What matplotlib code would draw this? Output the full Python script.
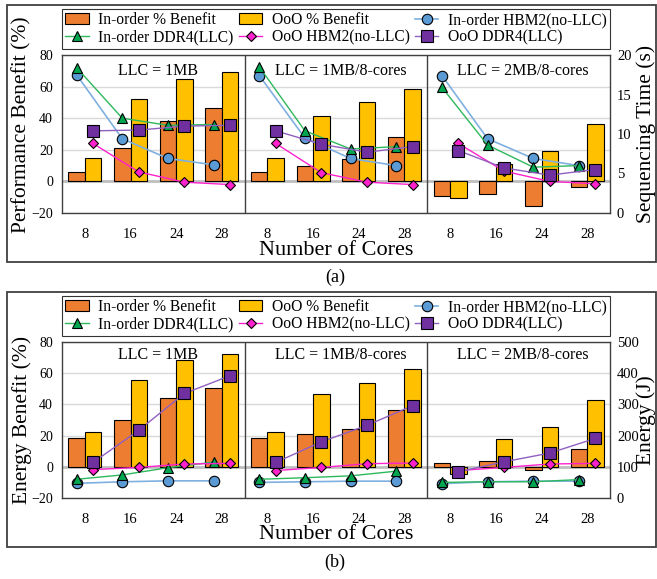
import matplotlib
matplotlib.use('Agg')
import matplotlib.pyplot as plt
from matplotlib.patches import Rectangle
import numpy as np

plt.rcParams['font.family'] = ['Liberation Serif', 'DejaVu Serif']

# ---------------- data ----------------
cores = ['8', '16', '24', '28']
groups = ['LLC = 1MB', 'LLC = 1MB/8-cores', 'LLC = 2MB/8-cores']

# (a) performance benefit (%) and sequencing time (s)
perf_inorder_benefit = [5.7, 21, 38, 46.5, 5.7, 9.5, 14.1, 28.4, -9.5, -8.2, -15.8, -3.6]
perf_ooo_benefit = [15, 52, 65, 69, 14.7, 41.7, 50.1, 58.3, -10.5, 11, 19.4, 36.2]
time_inorder_ddr4 = [18.4, 12.0, 11.1, 11.2, 18.5, 10.4, 8.1, 8.4, 15.9, 8.6, 5.8, 6.0]
time_inorder_hbm2 = [17.5, 9.4, 6.9, 6.1, 17.4, 9.5, 6.9, 6.0, 17.4, 9.4, 6.9, 6.0]
time_ooo_hbm2 = [8.8, 5.2, 3.9, 3.6, 8.8, 5.1, 3.9, 3.6, 8.8, 5.3, 4.0, 3.7]
time_ooo_ddr4 = [10.4, 10.5, 11.0, 11.1, 10.4, 8.7, 7.7, 8.4, 7.9, 5.7, 4.8, 5.5]

# (b) energy benefit (%) and energy (J)
en_inorder_benefit = [18.7, 30.3, 43.8, 50.6, 18.2, 20.8, 24.2, 36.5, 2.6, 3.9, -2.1, 11.6]
en_ooo_benefit = [22.3, 55.8, 68.5, 72.1, 22.1, 46.5, 54, 63, -4.9, 17.6, 25.3, 42.5]
en_inorder_ddr4 = [60, 74, 97, 115, 60, 65, 71, 86, 50, 52, 52, 59]
en_inorder_hbm2 = [47, 52, 55, 55, 50, 52, 54, 54, 46, 52, 54, 54]
en_ooo_hbm2 = [91, 98, 109, 111, 88, 98, 110, 112, 88, 98, 109, 111]
en_ooo_ddr4 = [114, 217, 335, 392, 114, 180, 233, 296, 84, 116, 144, 191]

left_ticks = [-20, 0, 20, 40, 60, 80]
time_ticks = [0, 5, 10, 15, 20]
energy_ticks = [0, 100, 200, 300, 400, 500]

# ---------------- styles ----------------
C_INB = '#ED7D31'
C_OOB = '#FFC000'
W, H = 657, 579
fig = plt.figure(figsize=(W / 100, H / 100), dpi=100)

labels = ['In-order % Benefit', 'OoO % Benefit', 'In-order HBM2(no-LLC)',
          'In-order DDR4(LLC)', 'OoO HBM2(no-LLC)', 'OoO DDR4(LLC)']


def panel(top, bottom, inb, oob, tri, circ, dia, sq, ylabel, rlabel, rlim, rticks,
          ylab_y, rlab_x, title_y, tag, tag_y, frame):
    ax = fig.add_axes([62 / W, 1 - bottom / H, 548 / W, (bottom - top) / H])
    n = len(groups) * len(cores)
    x = np.arange(n)
    w = 0.36
    ax.set_axisbelow(True)
    b1 = ax.bar(x - w / 2, inb, w, color=C_INB, edgecolor='black', lw=0.8, zorder=3)
    b2 = ax.bar(x + w / 2, oob, w, color=C_OOB, edgecolor='black', lw=0.8, zorder=3)
    ax.set_ylim(-20, 80)
    ax.set_xlim(-0.5, n - 0.5)
    ax.set_yticks(left_ticks)
    ax.yaxis.grid(True, color='#d9d9d9', lw=1, zorder=0)
    ax.axhline(0, color='#bfbfbf', lw=2, zorder=2)
    for s in [3.5, 7.5]:
        ax.axvline(s, color='#404040', lw=1, zorder=4)
    ax.set_xticks(x)
    ax.set_xticklabels(cores * len(groups))
    ax.tick_params(axis='both', length=0, labelsize=10.5)
    ax.tick_params(axis='y', pad=6.5, labelsize=10)
    ax.tick_params(axis='x', pad=11)
    for sp in ax.spines.values():
        sp.set_color('#404040')
        sp.set_linewidth(1)
    ax.set_ylabel(ylabel, fontsize=15.5)
    ax.yaxis.label.set_va('center')
    ax.yaxis.set_label_coords(-0.073, ylab_y)
    ax.set_xlabel('Number of Cores', fontsize=16)
    ax.xaxis.set_label_coords(0.5, -0.235)
    ax.xaxis.label.set_va('center')
    for gi, g in enumerate(groups):
        ax.text(gi * 4 + 1.6, title_y, g, transform=ax.get_xaxis_transform(),
                ha='center', va='center', fontsize=11.5, zorder=6)

    ax2 = ax.twinx()
    ax2.set_ylim(*rlim)
    ax2.set_yticks(rticks)
    ax2.tick_params(length=0, labelsize=10.5, pad=5)
    for sp in ax2.spines.values():
        sp.set_visible(False)
    ax2.set_ylabel(rlabel, fontsize=15.5)
    ax2.yaxis.label.set_va('center')
    ax2.yaxis.set_label_coords(rlab_x, 0.5)
    hs = {}
    for gi in range(len(groups)):
        sl = slice(gi * 4, gi * 4 + 4)
        hs['c'], = ax2.plot(x[sl] - w / 2, np.array(circ)[sl], color='#7fb0df', lw=1.2,
                            marker='o', ms=7.5, mfc='#5B9BD5', mec='black', mew=0.8, zorder=5)
        hs['t'], = ax2.plot(x[sl] - w / 2, np.array(tri)[sl], color='#2eb85c', lw=1.0,
                            marker='^', ms=7.5, mfc='#00a550', mec='black', mew=0.8, zorder=5)
        hs['d'], = ax2.plot(x[sl] + w / 2, np.array(dia)[sl], color='#ff22cc', lw=1.0,
                            marker='D', ms=5.5, mfc='#ff22cc', mec='black', mew=0.8, zorder=5)
        hs['s'], = ax2.plot(x[sl] + w / 2, np.array(sq)[sl], color='#9060c0', lw=1.0,
                            marker='s', ms=8, mfc='#7030A0', mec='black', mew=0.8, zorder=5)
    handles = [b1, hs['t'], b2, hs['d'], hs['c'], hs['s']]
    labs = [labels[0], labels[3], labels[1], labels[4], labels[2], labels[5]]
    leg = ax2.legend(handles, labs, ncol=3, loc='lower left',
                     bbox_to_anchor=(0, 1.038, 1, 0.2), mode='expand', borderaxespad=0,
                     frameon=True, fancybox=False, edgecolor='black', fontsize=11.2,
                     handlelength=1.5, labelspacing=0.1, borderpad=0.22,
                     handletextpad=0.6, columnspacing=0.6)
    leg.get_frame().set_linewidth(0.8)
    fig.text(0.51, 1 - tag_y / H, tag, ha='center', va='center', fontsize=13)
    x0, y0, x1, y1 = frame
    fig.add_artist(Rectangle((x0 / W, 1 - y1 / H), (x1 - x0) / W, (y1 - y0) / H,
                             transform=fig.transFigure, fill=False, ec='#404040', lw=1.3))


panel(55, 213, perf_inorder_benefit, perf_ooo_benefit, time_inorder_ddr4, time_inorder_hbm2,
      time_ooo_hbm2, time_ooo_ddr4, 'Performance Benefit (%)', 'Sequencing Time (s)',
      (0, 20), time_ticks, 0.56, 1.066, 0.90, '(a)', 277, (7, 5, 655.5, 262))
panel(342, 498, en_inorder_benefit, en_ooo_benefit, en_inorder_ddr4, en_inorder_hbm2,
      en_ooo_hbm2, en_ooo_ddr4, 'Energy Benefit (%)', 'Energy (J)',
      (0, 500), energy_ticks, 0.5, 1.066, 0.915, '(b)', 562, (7, 292, 655.5, 547))

fig.savefig('out.png', dpi=100)
